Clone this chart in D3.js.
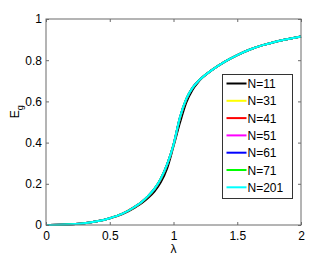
<!DOCTYPE html>
<html>
<head>
<meta charset="utf-8">
<script src="https://cdn.jsdelivr.net/npm/d3@7"></script>
<style>
	body { margin: 0; background: #fff; }
	svg { display: block; font-family: "Liberation Sans", Arial, sans-serif; }
</style>
</head>
<body>
<svg id="chart" width="332" height="259"></svg>
<script>
	// lambda grid and series
	var lambdas = [0, 0.1, 0.2, 0.3, 0.4, 0.5, 0.6, 0.7, 0.75, 0.8, 0.85, 0.9, 0.95, 1.0, 1.05, 1.1, 1.15, 1.2, 1.3, 1.4, 1.5, 1.6, 1.7, 1.8, 1.9, 2.0];
	var n11 =  [0, 0.001, 0.004, 0.009, 0.018, 0.032, 0.053, 0.086, 0.106, 0.131, 0.162, 0.207, 0.275, 0.382, 0.495, 0.594, 0.657, 0.698, 0.751, 0.792, 0.825, 0.852, 0.873, 0.89, 0.903, 0.915];
	var n31 =  [0, 0.001, 0.004, 0.009, 0.018, 0.033, 0.055, 0.089, 0.111, 0.139, 0.173, 0.222, 0.292, 0.389, 0.517, 0.609, 0.666, 0.702, 0.752, 0.792, 0.825, 0.852, 0.873, 0.89, 0.903, 0.915];
	var n41 =  [0, 0.001, 0.004, 0.009, 0.018, 0.033, 0.055, 0.09, 0.111, 0.139, 0.174, 0.223, 0.293, 0.39, 0.519, 0.61, 0.666, 0.702, 0.752, 0.792, 0.825, 0.852, 0.873, 0.89, 0.903, 0.915];
	var n51 =  [0, 0.001, 0.004, 0.009, 0.018, 0.033, 0.055, 0.09, 0.112, 0.14, 0.174, 0.224, 0.294, 0.39, 0.52, 0.611, 0.667, 0.702, 0.752, 0.792, 0.825, 0.852, 0.873, 0.89, 0.903, 0.915];
	var n61 =  [0, 0.001, 0.004, 0.009, 0.018, 0.033, 0.055, 0.09, 0.112, 0.14, 0.175, 0.224, 0.294, 0.39, 0.521, 0.611, 0.667, 0.702, 0.752, 0.792, 0.825, 0.852, 0.873, 0.89, 0.903, 0.915];
	var n71 =  [0, 0.001, 0.004, 0.009, 0.018, 0.033, 0.055, 0.09, 0.112, 0.14, 0.175, 0.225, 0.295, 0.39, 0.521, 0.612, 0.667, 0.702, 0.752, 0.792, 0.825, 0.852, 0.873, 0.89, 0.903, 0.915];
	var n201 = [0, 0.001, 0.004, 0.009, 0.018, 0.033, 0.055, 0.09, 0.112, 0.14, 0.175, 0.225, 0.295, 0.39, 0.522, 0.612, 0.667, 0.702, 0.752, 0.792, 0.825, 0.852, 0.873, 0.89, 0.903, 0.915];
	var seriesNames = ["N=11", "N=31", "N=41", "N=51", "N=61", "N=71", "N=201"];
	var seriesColors = ["#000000", "#ffff00", "#ff0000", "#ff00ff", "#0000ff", "#00ff00", "#00ffff"];
	var xTickValues = [0, 0.5, 1, 1.5, 2];
	var yTickValues = [0, 0.2, 0.4, 0.6, 0.8, 1];

	var series = [n11, n31, n41, n51, n61, n71, n201];

	var margin = {left: 46, top: 19, right: 31, bottom: 34};
	var width = 332 - margin.left - margin.right,
		height = 259 - margin.top - margin.bottom;

	var svg = d3.select("#chart");
	var g = svg.append("g").attr("transform", "translate(" + margin.left + "," + margin.top + ")");

	var x = d3.scaleLinear().domain([0, 2]).range([0, width]);
	var y = d3.scaleLinear().domain([0, 1]).range([height, 0]);

	var line = d3.line()
		.x(function (d, i) { return x(lambdas[i]); })
		.y(function (d) { return y(d); })
		.curve(d3.curveMonotoneX);

	g.selectAll(".curve").data(series)
		.enter()
		.append("path")
		.attr("class", "curve")
		.attr("fill", "none")
		.attr("stroke", function (d, i) { return seriesColors[i]; })
		.attr("stroke-width", 2)
		.attr("d", line);

	var axisColor = "#6b6b6b";
	var fmt = function (d) { return String(d); };

	var styleAxis = function (sel, showText) {
		sel.select(".domain").remove();
		sel.selectAll(".tick line").attr("stroke", axisColor);
		sel.selectAll(".tick text")
			.attr("fill", showText ? "#000" : "none")
			.style("font-size", "12px");
	};

	g.append("g").attr("transform", "translate(0," + height + ")")
		.call(d3.axisBottom(x).tickValues(xTickValues).tickSize(-3).tickPadding(6).tickFormat(fmt))
		.call(styleAxis, true);
	g.append("g")
		.call(d3.axisTop(x).tickValues(xTickValues).tickSize(-3).tickFormat(""))
		.call(styleAxis, false);
	g.append("g")
		.call(d3.axisLeft(y).tickValues(yTickValues).tickSize(-3).tickPadding(4).tickFormat(fmt))
		.call(styleAxis, true);
	g.append("g").attr("transform", "translate(" + width + ",0)")
		.call(d3.axisRight(y).tickValues(yTickValues).tickSize(-3).tickFormat(""))
		.call(styleAxis, false);

	g.append("rect")
		.attr("x", 0).attr("y", 0)
		.attr("width", width).attr("height", height)
		.attr("fill", "none")
		.attr("stroke", axisColor)
		.attr("stroke-width", 1);

	// axis labels
	g.append("text")
		.attr("x", x(1)).attr("y", height + 28)
		.attr("text-anchor", "middle")
		.style("font-size", "12px")
		.text("\u03bb");

	var yl = svg.append("text")
		.attr("transform", "translate(19," + (margin.top + y(0.55)) + ") rotate(-90)")
		.attr("text-anchor", "middle")
		.style("font-size", "12px");
	yl.append("tspan").text("E");
	yl.append("tspan").attr("dy", 4).style("font-size", "9px").text("g");

	// legend
	var legend = svg.append("g").attr("transform", "translate(222,74)");
	legend.append("rect")
		.attr("x", 0.5).attr("y", 0.5)
		.attr("width", 70).attr("height", 124)
		.attr("fill", "#fff")
		.attr("stroke", "#333");

	var item = legend.selectAll(".item").data(seriesNames)
		.enter()
		.append("g")
		.attr("class", "item")
		.attr("transform", function (d, i) { return "translate(0," + (9.5 + i * 17.3) + ")"; });
	item.append("line")
		.attr("x1", 4.5).attr("x2", 24.5)
		.attr("stroke", function (d, i) { return seriesColors[i]; })
		.attr("stroke-width", 2);
	item.append("text")
		.attr("x", 25.5).attr("y", 4.5)
		.style("font-size", "12px")
		.text(function (d) { return d; });
</script>
</body>
</html>
